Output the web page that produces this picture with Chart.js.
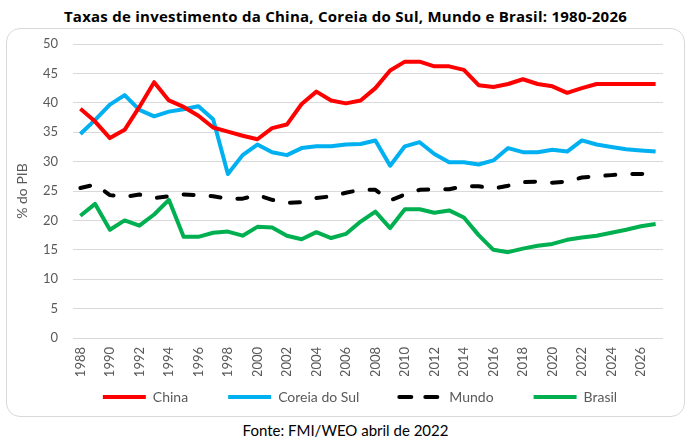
<!DOCTYPE html>
<html>
<head>
<meta charset="utf-8">
<script src="https://cdn.jsdelivr.net/npm/chart.js@4"></script>
<style>
  html, body { margin: 0; padding: 0; background: #fff; }
  body { width: 691px; height: 443px; position: relative; overflow: hidden; font-family: Lato, "Open Sans", sans-serif; }
  #title { position: absolute; left: 0; width: 691px; top: 6px; text-align: center; font-family: "Open Sans", sans-serif; font-weight: bold; font-size: 15px; letter-spacing: 0.25px; color: #000; }
  #box { position: absolute; left: 6px; top: 28px; width: 677px; height: 387px; border: 1px solid #D9D9D9; border-radius: 14px; }
  #wrap { position: absolute; left: 7px; top: 29px; width: 677px; height: 387px; }
  #foot { position: absolute; left: 0; width: 691px; top: 421px; text-align: center; font-size: 15px; color: #000; }
</style>
</head>
<body>
<div id="title">Taxas de investimento da China, Coreia do Sul, Mundo e Brasil: 1980-2026</div>
<div id="box"></div>
<div id="wrap"><canvas id="c"></canvas></div>
<div id="foot">Fonte: FMI/WEO abril de 2022</div>
<script>
const years = [1988,1989,1990,1991,1992,1993,1994,1995,1996,1997,1998,1999,2000,2001,2002,2003,2004,2005,2006,2007,2008,2009,2010,2011,2012,2013,2014,2015,2016,2017,2018,2019,2020,2021,2022,2023,2024,2025,2026,2027];
const china = [39.0,36.8,34.0,35.4,39.3,43.5,40.4,39.3,37.8,35.8, 35.1,34.4,33.8,35.7,36.3,39.8,41.9,40.4,39.9,40.4, 42.5,45.5,47.0,47.0,46.2,46.2,45.6,43.0,42.7,43.2, 44.0,43.2,42.8,41.7,42.5,43.2,43.2,43.2,43.2,43.2];
const coreia = [34.7,37.1,39.7,41.3,38.8,37.7,38.5,38.9,39.4,37.2, 27.9,31.1,32.9,31.6,31.1,32.3,32.6,32.6,32.9,33.0, 33.6,29.3,32.6,33.3,31.3,29.9,29.9,29.5,30.2,32.3, 31.6,31.6,32.0,31.7,33.6,32.9,32.5,32.1,31.9,31.7];
const mundo = [25.5,26.1,24.3,24.0,24.4,23.8,24.1,24.4,24.3,24.1, 23.7,23.7,24.3,23.5,23.0,23.1,23.8,24.1,24.7,25.2, 25.2,23.4,24.4,25.2,25.3,25.3,25.8,25.8,25.4,25.9, 26.5,26.6,26.4,26.6,27.3,27.5,27.7,27.9,27.9,28.0];
const brasil = [20.8,22.8,18.4,20.0,19.1,21.0,23.5,17.2,17.2,17.9, 18.1,17.4,18.9,18.8,17.4,16.8,18.0,17.0,17.7,19.8, 21.5,18.7,21.9,21.9,21.3,21.7,20.5,17.5,15.0,14.6, 15.2,15.7,16.0,16.7,17.1,17.4,17.9,18.4,19.0,19.4];
const seriesNames = ['China','Coreia do Sul','Mundo','Brasil'];
const yTitle = '% do PIB';

const gray = '#595959';
const fam = 'Lato, "Open Sans", sans-serif';

function ds(label, data, color, dash) {
  return {
    label, data,
    borderColor: color, backgroundColor: color,
    borderWidth: 4, pointRadius: 0, pointHoverRadius: 0, tension: 0,
    borderDash: dash || [], borderCapStyle: dash ? 'round' : 'butt', borderJoinStyle: 'round'
  };
}

// keep legend compact in layout, and place it like the reference
const legendPlace = {
  id: 'legendPlace',
  beforeUpdate(chart) {
    const lg = chart.legend;
    if (lg && !lg._patched) {
      const orig = lg.fit;
      lg.fit = function() { orig.call(this); this.height = 40; };
      lg._patched = true;
    }
  },
  afterLayout(chart) {
    const lg = chart.legend;
    if (!lg) return;
    const dx = 25;
    lg.left += dx; lg.right += dx;
    lg.top = 321; lg.bottom = chart.height;
  }
};

new Chart(document.getElementById('c'), {
  type: 'line',
  data: {
    labels: years,
    datasets: [
      ds(seriesNames[0], china, '#FF0000'),
      ds(seriesNames[1], coreia, '#00B0F0'),
      ds(seriesNames[2], mundo, '#000000', [10, 17]),
      ds(seriesNames[3], brasil, '#00B050')
    ]
  },
  plugins: [legendPlace],
  options: {
    responsive: true,
    maintainAspectRatio: false,
    animation: false,
    layout: { padding: { left: 0, right: 21, top: 15, bottom: 0 } },
    plugins: {
      legend: {
        position: 'bottom',
        labels: {
          usePointStyle: true, pointStyle: 'line', pointStyleWidth: 43,
          boxHeight: 14, padding: 40, color: gray, font: { family: fam, size: 14 },
          generateLabels: function(chart) {
            const items = Chart.defaults.plugins.legend.labels.generateLabels(chart);
            items.forEach(function(it) {
              const d = chart.data.datasets[it.datasetIndex];
              it.lineDash = (d.borderDash && d.borderDash.length) ? [12, 14] : [];
              it.lineCap = d.borderCapStyle;
              it.lineWidth = d.borderWidth;
              it.strokeStyle = d.borderColor;
            });
            return items;
          }
        }
      },
      tooltip: { enabled: false }
    },
    scales: {
      x: {
        offset: true,
        afterFit: function(s) { s.height = 38; },
        grid: { display: false, drawTicks: false },
        border: { display: false },
        ticks: {
          autoSkip: false, minRotation: 90, maxRotation: 90, padding: 9,
          color: gray, font: { family: fam, size: 13 },
          callback: function(v, i) { return (years[i] % 2 === 0) ? years[i] : ''; }
        }
      },
      y: {
        min: 0, max: 50,
        afterFit: function(s) { s.width = 66; s.paddingTop = 0; s.paddingBottom = 0; },
        grid: { color: '#D9D9D9', lineWidth: 1, drawTicks: false },
        border: { display: false },
        ticks: { stepSize: 5, padding: 15, color: gray, font: { family: fam, size: 13 } },
        title: { display: true, text: yTitle, color: gray, font: { family: fam, size: 14 }, padding: { top: 7, bottom: 0 } }
      }
    }
  }
});
</script>
</body>
</html>
